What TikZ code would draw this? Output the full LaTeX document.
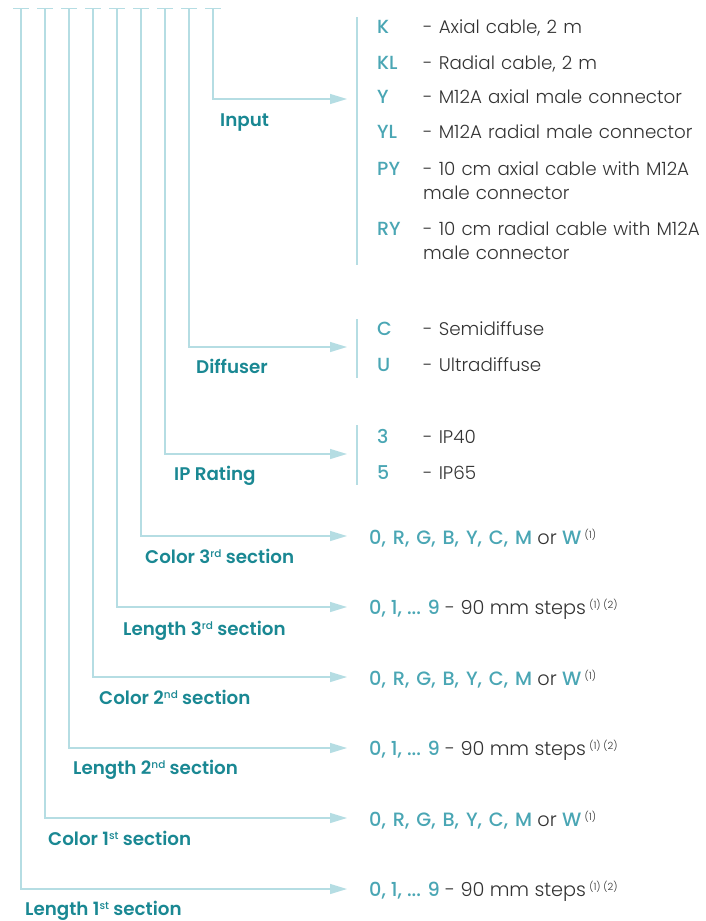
\documentclass[tikz,border=0pt]{standalone}
\usepackage{fontspec}
\setmainfont{Poppins}
\newfontfamily\labfont{Poppins SemiBold}
\newfontfamily\codefont{Poppins Medium}
\newfontfamily\descfont{Poppins Light}
\usetikzlibrary{arrows.meta}
\definecolor{lineblue}{HTML}{B5DDE3}
\definecolor{labteal}{HTML}{1A8893}
\definecolor{codeteal}{HTML}{4AA6B4}
\definecolor{txtgrey}{HTML}{333333}
\newcommand{\sups}[1]{\raisebox{5.6pt}{\fontsize{10.5}{10.5}\selectfont\codefont #1}}
\newcommand{\fn}[1]{\raisebox{6pt}{\fontsize{10}{10}\selectfont\descfont\color{txtgrey}#1}}
\begin{document}
\begin{tikzpicture}[x=1pt,y=-1pt,
  conn/.style={draw=lineblue, line width=1.3pt, -{Triangle[length=17pt,width=10pt,fill=lineblue]}},
  tick/.style={draw=lineblue, line width=1.3pt},
  bar/.style={draw=lineblue, line width=1.3pt},
  lab/.style={anchor=base west, inner sep=0pt, text=labteal, font=\fontsize{18.3}{20}\selectfont\labfont},
  code/.style={anchor=base west, inner sep=0pt, text=codeteal, font=\fontsize{19}{20}\selectfont\codefont},
  desc/.style={anchor=base west, inner sep=0pt, text=txtgrey, font=\fontsize{18.3}{24.5}\selectfont\descfont, text width=290pt, align=left},
  opt/.style={anchor=base west, inner sep=0pt, text=txtgrey, font=\fontsize{19.3}{20}\selectfont\descfont},
]
\useasboundingbox (0,0) rectangle (706,921);
% top ticks and start points
\foreach \i/\n in {0/t0,1/t1,2/t2,3/t3,4/t4,5/t5,6/t6,7/t7,8/t8}{
  \coordinate (\n) at (21+24*\i,8.5);
  \draw[tick] (13+24*\i,8.5) -- (29+24*\i,8.5);
}
% arrow targets
\coordinate (aInput) at (347,99);
\coordinate (aDiff) at (347,347);
\coordinate (aIP) at (347,454);
\coordinate (aC3) at (347,536);
\coordinate (aL3) at (347,607);
\coordinate (aC2) at (347,677);
\coordinate (aL2) at (347,748);
\coordinate (aC1) at (347,818);
\coordinate (aL1) at (347,889);
% connectors
\draw[conn] (t8) |- (aInput);
\draw[conn] (t7) |- (aDiff);
\draw[conn] (t6) |- (aIP);
\draw[conn] (t5) |- (aC3);
\draw[conn] (t4) |- (aL3);
\draw[conn] (t3) |- (aC2);
\draw[conn] (t2) |- (aL2);
\draw[conn] (t1) |- (aC1);
\draw[conn] (t0) |- (aL1);
% labels
\node[lab] (lInput) at (220,126) {Input};
\node[lab] (lDiff) at (196,373) {Diffuser};
\node[lab] (lIP) at (174,480) {IP Rating};
\node[lab] (lC3) at (145,563) {Color 3\sups{rd} section};
\node[lab] (lL3) at (123,635) {Length 3\sups{rd} section};
\node[lab] (lC2) at (99,704) {Color 2\sups{nd} section};
\node[lab] (lL2) at (73,774) {Length 2\sups{nd} section};
\node[lab] (lC1) at (48,845) {Color 1\sups{st} section};
\node[lab] (lL1) at (25,915) {Length 1\sups{st} section};
% brackets
\coordinate (bI1) at (357,17); \coordinate (bI2) at (357,265);
\coordinate (bD1) at (357,319); \coordinate (bD2) at (357,378);
\coordinate (bP1) at (357,425); \coordinate (bP2) at (357,485);
\draw[bar] (bI1) -- (bI2);
\draw[bar] (bD1) -- (bD2);
\draw[bar] (bP1) -- (bP2);
% input options
\node[code] (cK) at (377,33) {K};
\node[desc] (dK) at (423,33) {- Axial cable, 2 m};
\node[code] (cKL) at (377,69) {KL};
\node[desc] (dKL) at (423,69) {- Radial cable, 2 m};
\node[code] (cY) at (377,103) {Y};
\node[desc] (dY) at (423,103) {- M12A axial male connector};
\node[code] (cYL) at (377,138) {YL};
\node[desc] (dYL) at (423,138) {- M12A radial male connector};
\node[code] (cPY) at (377,175) {PY};
\node[desc] (dPY) at (423,175) {- 10 cm axial cable with M12A\\male connector};
\node[code] (cRY) at (377,235) {RY};
\node[desc] (dRY) at (423,235) {- 10 cm radial cable with M12A\\male connector};
% diffuser options
\node[code] (cC) at (377,335) {C};
\node[desc] (dC) at (423,335) {- Semidiffuse};
\node[code] (cU) at (377,371) {U};
\node[desc] (dU) at (423,371) {- Ultradiffuse};
% IP options
\node[code] (c3) at (377,443) {3};
\node[desc] (d3) at (423,443) {- IP40};
\node[code] (c5) at (377,479) {5};
\node[desc] (d5) at (423,479) {- IP65};
% colour / length options
\foreach \n/\yy in {oC3/544,oC2/685,oC1/826}{
  \node[opt] (\n) at (369,\yy) {{\codefont\color{codeteal}\spaceskip=0.36em 0, R, G, B, Y, C, M} or {\codefont\color{codeteal}W}\,\fn{(1)}};
}
\foreach \n/\yy in {oL3/614,oL2/755,oL1/896}{
  \node[opt] (\n) at (369,\yy) {{\codefont\color{codeteal}0, 1, ... 9} - 90 mm steps\,\fn{(1) (2)}};
}
\end{tikzpicture}
\end{document}
